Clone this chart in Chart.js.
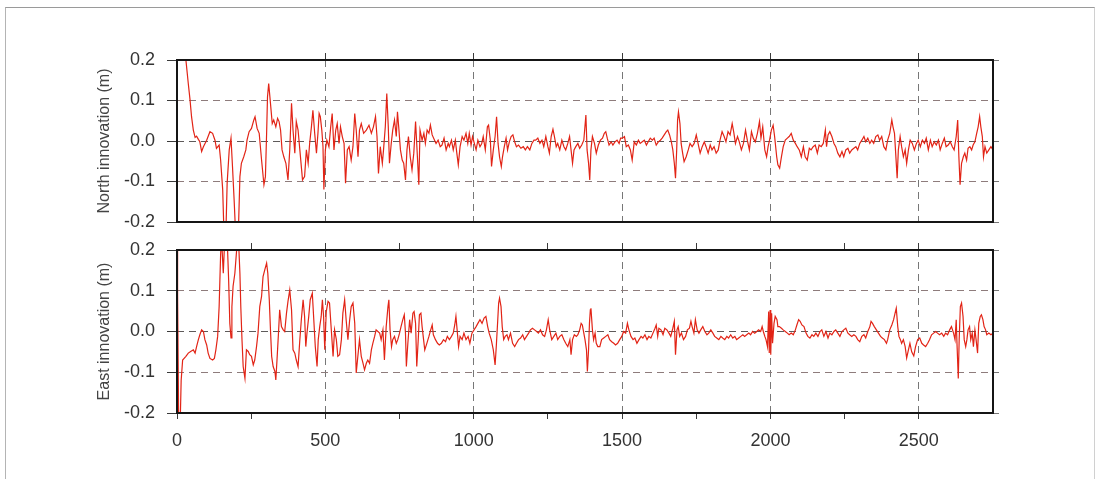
<!DOCTYPE html>
<html><head><meta charset="utf-8">
<script src="https://cdn.jsdelivr.net/npm/chart.js@4.4.1/dist/chart.umd.min.js"></script>
<style>
html,body{margin:0;padding:0;background:#fff;}
body{width:1098px;height:479px;position:relative;overflow:hidden;}
#page{position:absolute;left:5px;top:7px;width:1088px;height:480px;border-top:1px solid #9a9a9a;border-left:1px solid #b4b4b4;border-right:1px solid #d0d0d0;}
.box{position:absolute;left:0;}
#b1{top:0;}
#b2{top:220px;}
</style></head><body>
<div id="page"></div>
<div class="box" id="b1"><canvas id="c1" width="1098" height="252"></canvas></div>
<div class="box" id="b2"><canvas id="c2" width="1098" height="259"></canvas></div>
<script>
// ---- data ----
const northT = [
0,30,38,44,49,55,61,66,72,77,
83,89,100,111,120,128,133,142,147,154,
158,165,169,176,182,187,193,197,207,212,
217,225,232,236,243,251,259,263,270,277,
285,293,298,302,305,309,315,321,326,333,
339,344,349,354,360,367,374,380,386,391,
397,402,408,414,423,430,436,442,447,453,
458,464,470,475,479,483,488,492,495,500,
505,512,518,523,529,535,540,546,551,557,
563,568,574,580,587,593,599,604,610,615,
621,629,638,647,655,662,669,674,679,685,
692,696,702,707,712,716,722,727,733,739,
743,748,753,759,764,770,775,780,786,792,
798,804,809,815,819,826,832,837,843,849,
854,860,868,873,880,887,893,900,907,914,
918,925,931,938,943,948,954,961,967,974,
980,985,991,996,1002,1008,1014,1021,1027,1032,
1039,1046,1050,1056,1060,1066,1072,1077,1082,1087,
1093,1097,1103,1109,1114,1120,1126,1132,1138,1144,
1151,1159,1167,1174,1181,1189,1196,1203,1209,1216,
1223,1230,1236,1243,1250,1255,1261,1267,1272,1278,
1283,1290,1297,1304,1310,1317,1323,1328,1333,1338,
1344,1351,1357,1364,1371,1378,1382,1387,1391,1395,
1400,1407,1413,1420,1427,1434,1440,1445,1450,1456,
1463,1469,1476,1483,1490,1495,1501,1508,1514,1521,
1528,1534,1541,1548,1555,1561,1568,1575,1582,1588,
1595,1602,1608,1615,1622,1629,1635,1642,1649,1654,
1660,1666,1671,1676,1680,1684,1687,1690,1695,1699,
1704,1709,1716,1723,1729,1736,1743,1750,1756,1763,
1770,1777,1783,1790,1797,1803,1810,1817,1824,1830,
1837,1844,1850,1857,1864,1871,1876,1882,1889,1895,
1902,1909,1916,1922,1929,1936,1942,1949,1956,1963,
1968,1974,1981,1987,1992,1997,2003,2009,2014,2021,
2025,2031,2037,2043,2050,2057,2063,2070,2077,2084,
2090,2097,2104,2111,2117,2124,2131,2137,2144,2151,
2158,2164,2171,2178,2185,2189,2194,2200,2207,2214,
2220,2227,2234,2241,2247,2254,2261,2267,2274,2281,
2288,2294,2301,2308,2315,2321,2328,2335,2341,2348,
2355,2362,2368,2375,2382,2389,2395,2402,2409,2413,
2418,2422,2427,2431,2437,2442,2448,2454,2459,2465,
2471,2478,2485,2492,2498,2505,2512,2519,2525,2532,
2539,2545,2552,2559,2566,2572,2579,2586,2592,2599,
2606,2613,2619,2626,2631,2635,2639,2644,2650,2655,
2661,2666,2672,2678,2683,2689,2695,2700,2705,2709,
2714,2718,2723,2729,2736,2743,2750
];
const northV = [
0.45,0.2,0.142,0.101,0.060,0.027,0.009,0.012,0.004,-0.002,
-0.026,-0.014,0.002,0.023,0.019,0.002,-0.018,-0.010,-0.047,-0.12,
-0.22,-0.22,-0.104,-0.022,0.007,-0.063,-0.153,-0.22,-0.22,-0.088,
-0.055,-0.039,-0.022,0.002,0.023,0.031,0.052,0.060,0.031,0.019,
-0.047,-0.108,-0.088,0.019,0.109,0.142,0.093,0.043,0.052,0.035,
0.056,0.048,0.027,-0.022,-0.039,-0.055,-0.096,-0.022,0.093,0.027,
-0.030,0.048,0.027,-0.022,-0.096,-0.088,-0.022,-0.055,-0.006,0.035,
0.076,0.019,-0.030,0.019,0.068,0.060,0.027,-0.014,-0.12,-0.022,
0.002,-0.014,0.035,0.068,-0.022,0.027,0.043,-0.006,0.035,0.011,
-0.006,-0.104,-0.022,-0.014,-0.047,-0.014,0.068,0.027,-0.039,0.027,
0.043,0.019,0.027,0.039,0.019,0.035,0.060,0.011,-0.080,-0.014,
-0.055,-0.022,0.035,0.117,0.035,-0.055,-0.006,0.027,0.052,0.011,
0.072,0.027,-0.022,-0.047,-0.055,-0.096,-0.022,0.011,-0.039,-0.071,
-0.030,0.048,-0.022,-0.108,0.027,0.002,0.019,-0.006,0.027,0.019,
0.039,0.015,0.002,-0.006,0.002,-0.014,-0.010,0.007,-0.022,-0.006,
-0.014,0.002,-0.022,0.002,-0.030,-0.059,-0.014,0.011,0.002,0.019,
-0.006,0.019,-0.010,0.011,-0.006,-0.022,0.002,-0.014,-0.006,0.011,
-0.022,0.035,0.039,0.002,-0.063,-0.022,0.011,0.060,-0.006,-0.039,
-0.063,-0.039,-0.014,0.007,-0.022,-0.002,0.011,0.015,-0.002,-0.014,
-0.010,-0.018,-0.014,-0.022,-0.014,-0.022,-0.006,0.002,0.002,0.007,
-0.006,0.002,-0.014,0.011,-0.014,-0.030,0.011,0.029,0.011,-0.014,
-0.006,-0.022,0.002,-0.014,-0.022,-0.006,0.011,-0.022,-0.055,-0.022,
-0.014,-0.006,-0.018,-0.010,0.002,0.064,-0.022,-0.055,-0.096,-0.022,
0.011,-0.006,-0.030,-0.010,0.002,0.007,0.019,0.023,0.007,-0.010,
-0.002,-0.010,-0.002,0.002,-0.006,0.007,0.007,0.011,-0.014,-0.010,
-0.022,-0.047,-0.002,-0.010,0.002,-0.006,-0.002,0.002,-0.010,-0.002,
0.007,0.002,0.007,-0.010,-0.002,0.002,0.007,0.015,0.023,0.027,
0.015,-0.002,-0.022,-0.055,-0.092,-0.022,0.052,0.072,0.043,-0.006,
-0.030,-0.051,-0.039,-0.022,-0.006,-0.014,-0.006,0.015,-0.006,-0.030,
-0.014,-0.002,-0.014,-0.030,-0.010,-0.022,-0.014,-0.030,-0.022,0.002,
0.023,0.011,-0.002,0.023,0.015,0.043,0.023,-0.006,0.011,-0.002,
-0.022,-0.006,0.027,0.002,-0.022,0.023,0.007,-0.002,0.019,0.048,
0.007,0.035,-0.022,-0.039,-0.014,0.002,0.027,0.039,0.011,-0.039,
-0.059,-0.067,-0.039,-0.014,0.002,0.007,0.011,0.019,0.002,-0.006,
-0.014,-0.022,-0.039,-0.014,-0.039,-0.047,-0.018,-0.022,-0.014,-0.010,
-0.030,-0.010,-0.014,-0.006,0.027,-0.014,0.015,0.023,0.011,-0.006,
-0.014,-0.030,-0.039,-0.026,-0.039,-0.022,-0.018,-0.030,-0.022,-0.018,
-0.014,-0.022,-0.006,0.002,0.011,-0.002,0.007,-0.006,0.002,-0.006,
0.011,0.015,0.002,0.011,-0.014,-0.022,0.002,0.019,0.052,0.035,
0.019,-0.030,-0.092,-0.022,0.011,-0.014,-0.039,-0.022,-0.055,-0.022,
0.002,-0.006,-0.022,-0.006,0.002,-0.014,0.002,-0.006,0.007,-0.022,
0.002,-0.014,-0.002,-0.010,0.002,-0.022,-0.006,0.007,-0.014,-0.010,
-0.002,-0.014,-0.022,0.011,0.052,-0.039,-0.108,-0.055,-0.039,-0.030,
-0.047,-0.018,-0.014,-0.022,-0.010,-0.002,0.019,0.035,0.060,0.035,
0.011,-0.039,-0.014,-0.030,-0.022,-0.014,-0.022
];
const eastT = [
0,2,6,10,14,19,24,30,38,46,
55,61,66,72,77,83,89,94,100,105,
111,120,126,131,137,142,147,150,156,161,
169,174,178,182,185,189,195,201,207,212,
215,219,223,229,234,240,245,251,257,262,
268,273,279,285,290,296,302,306,311,315,
319,324,330,333,337,342,346,352,358,363,
369,374,380,386,391,397,402,408,414,419,
425,430,434,438,444,449,456,461,466,472,
476,481,486,490,494,498,503,509,514,520,
526,531,537,542,548,554,559,565,570,576,
582,587,593,599,604,610,615,621,627,632,
638,643,649,655,660,666,671,677,683,688,
694,699,705,711,714,718,723,727,733,739,
744,750,755,761,766,770,773,778,784,789,
795,799,804,808,813,817,822,826,831,835,
842,849,855,860,864,871,878,884,891,898,
905,911,918,925,931,936,940,945,949,954,
961,967,974,981,987,994,1001,1008,1014,1021,
1028,1035,1041,1047,1052,1059,1066,1072,1076,1081,
1084,1087,1092,1096,1101,1106,1112,1117,1124,1131,
1138,1144,1151,1158,1165,1171,1178,1185,1191,1198,
1205,1212,1218,1225,1232,1239,1245,1251,1256,1263,
1270,1277,1283,1290,1297,1304,1310,1317,1324,1328,
1333,1339,1346,1351,1357,1362,1366,1371,1375,1380,
1383,1387,1390,1393,1395,1400,1404,1409,1413,1418,
1425,1431,1438,1445,1452,1458,1465,1472,1478,1485,
1492,1499,1505,1512,1518,1523,1530,1537,1543,1550,
1557,1564,1570,1577,1584,1590,1597,1604,1611,1615,
1620,1624,1631,1638,1644,1651,1658,1664,1671,1676,
1680,1685,1689,1694,1700,1707,1714,1720,1727,1732,
1736,1742,1747,1753,1759,1765,1772,1779,1786,1792,
1799,1806,1812,1819,1826,1833,1839,1846,1853,1859,
1866,1873,1880,1886,1893,1900,1907,1913,1920,1927,
1933,1940,1947,1954,1960,1967,1972,1976,1981,1985,
1990,1994,1996,1999,2001,2004,2007,2012,2016,2022,
2025,2030,2037,2043,2050,2057,2063,2070,2077,2084,
2089,2095,2100,2106,2113,2120,2126,2133,2140,2146,
2153,2160,2167,2173,2180,2187,2194,2200,2207,2214,
2220,2227,2234,2241,2247,2254,2261,2267,2274,2281,
2288,2294,2301,2308,2315,2321,2328,2335,2339,2344,
2350,2357,2364,2371,2377,2384,2391,2395,2402,2409,
2415,2420,2424,2429,2433,2438,2442,2448,2454,2459,
2465,2470,2476,2483,2489,2496,2503,2510,2516,2523,
2530,2536,2543,2550,2557,2563,2570,2577,2584,2590,
2597,2604,2610,2617,2622,2626,2629,2633,2636,2640,
2644,2649,2653,2658,2662,2666,2671,2675,2680,2684,
2689,2693,2698,2702,2707,2711,2716,2720,2725,2729,
2736,2743,2750
];
const eastV = [
0.3,0.09,-0.25,-0.25,-0.12,-0.070,-0.066,-0.061,-0.053,-0.049,
-0.045,-0.053,-0.037,-0.020,-0.008,0.004,0.000,-0.020,-0.033,-0.053,
-0.066,-0.070,-0.066,-0.045,-0.012,0.061,0.189,0.23,0.143,0.23,
0.23,0.127,0.020,-0.016,0.061,0.111,0.143,0.20,0.23,0.143,
0.061,-0.020,-0.086,-0.115,-0.045,-0.049,-0.057,-0.061,-0.082,-0.070,
-0.037,-0.004,0.061,0.086,0.135,0.152,0.168,0.143,0.078,0.004,
-0.061,-0.086,-0.098,-0.119,-0.070,-0.004,0.053,0.012,0.004,0.000,
0.045,0.074,0.102,0.053,-0.045,-0.053,-0.070,-0.086,-0.020,0.029,
0.078,0.037,-0.037,-0.004,0.037,0.078,0.094,0.029,-0.037,-0.086,
-0.020,0.012,0.037,0.078,0.037,-0.045,0.049,0.074,0.070,0.004,
-0.061,0.004,-0.020,-0.061,-0.057,-0.020,0.045,0.078,0.029,-0.020,
0.029,0.061,0.070,0.020,-0.102,-0.057,-0.020,-0.061,-0.078,-0.094,
-0.078,-0.070,-0.078,-0.045,-0.029,-0.012,0.004,0.000,-0.004,-0.020,
0.004,-0.070,0.012,0.061,0.078,0.004,-0.037,-0.020,-0.012,-0.029,
-0.020,-0.004,0.012,0.029,0.041,-0.004,-0.086,-0.029,0.029,-0.004,
0.045,0.049,0.020,-0.086,-0.020,0.041,0.045,0.012,-0.020,-0.045,
-0.029,-0.012,0.004,0.016,-0.008,-0.020,-0.029,-0.033,-0.029,-0.020,
-0.025,-0.012,-0.020,-0.012,-0.004,0.016,0.037,-0.004,-0.037,-0.012,
-0.020,-0.004,-0.020,-0.012,-0.029,-0.004,0.004,0.012,0.020,0.029,
0.020,0.033,0.037,0.012,-0.004,-0.020,-0.045,-0.082,-0.037,0.029,
0.070,0.082,0.061,0.012,-0.020,-0.012,-0.008,-0.020,-0.004,-0.029,
-0.037,-0.029,-0.020,-0.016,-0.008,-0.020,-0.012,-0.004,0.004,0.008,
0.004,0.000,-0.004,0.004,-0.008,-0.012,0.004,0.029,0.004,-0.020,
-0.012,-0.004,-0.020,-0.012,-0.008,-0.020,-0.029,-0.037,-0.020,-0.057,
-0.020,-0.008,-0.012,-0.008,0.004,0.020,0.016,-0.004,-0.020,-0.045,
-0.098,-0.045,0.020,0.053,0.057,0.004,-0.020,-0.004,-0.029,-0.037,
-0.037,-0.020,-0.016,-0.012,-0.008,-0.020,-0.025,-0.029,-0.033,-0.029,
-0.020,-0.012,0.000,-0.004,0.020,0.004,-0.012,-0.020,-0.016,-0.029,
-0.020,-0.012,-0.016,-0.008,-0.020,-0.012,-0.016,-0.004,0.008,0.016,
-0.012,0.008,0.004,-0.008,0.008,0.004,-0.004,-0.012,0.008,0.025,
-0.057,0.004,0.012,-0.012,-0.004,-0.020,-0.012,0.004,0.008,0.025,
0.012,-0.004,0.029,0.004,-0.004,0.004,0.012,0.000,-0.008,-0.004,
0.004,-0.004,-0.012,-0.016,-0.020,-0.012,-0.016,-0.020,-0.012,-0.016,
-0.008,-0.016,-0.012,-0.020,-0.016,-0.012,-0.008,-0.012,-0.008,-0.004,
-0.008,0.000,-0.004,0.000,0.004,0.000,0.012,0.000,-0.012,-0.020,
-0.037,0.049,-0.053,0.053,-0.057,0.045,-0.029,0.020,0.037,0.029,
0.012,0.012,0.008,0.004,0.000,-0.004,-0.008,-0.004,-0.008,0.004,
0.016,0.029,0.025,0.016,0.012,-0.004,-0.012,-0.016,-0.008,-0.012,
-0.004,-0.012,0.000,0.004,-0.012,0.000,-0.016,-0.004,-0.008,0.000,
0.004,-0.004,-0.012,0.000,0.004,0.008,-0.004,-0.008,-0.012,-0.008,
-0.012,-0.020,-0.025,-0.012,-0.008,-0.016,0.000,0.012,0.025,0.020,
0.012,0.004,-0.004,-0.012,-0.016,-0.020,-0.029,-0.020,0.004,0.016,
0.029,0.045,0.057,0.012,-0.012,-0.020,-0.029,-0.020,-0.037,-0.065,
-0.045,-0.029,-0.050,-0.060,-0.037,-0.020,-0.016,-0.029,-0.033,-0.037,
-0.029,-0.020,-0.008,-0.004,0.000,-0.004,-0.008,-0.004,-0.012,-0.004,
-0.008,0.004,0.012,-0.004,-0.020,0.029,-0.037,-0.115,-0.020,0.061,
0.070,0.037,-0.020,-0.037,-0.020,0.004,0.012,-0.020,-0.004,-0.037,
0.004,-0.020,-0.053,0.020,0.037,0.041,0.029,0.012,0.004,-0.008,
-0.004,-0.008,-0.004
];
const yTickValues = [-0.2, -0.1, 0, 0.1, 0.2];
const xMajorTicks = [0, 500, 1000, 1500, 2000, 2500];
const xMinorTicks = [0, 250, 500, 750, 1000, 1250, 1500, 1750, 2000, 2250, 2500];
const xRange = [0, 2750];
const yRange = [-0.2, 0.2];
const titles = ['North innovation (m)', 'East innovation (m)'];

// ---- styling ----
const FONT = "'Liberation Sans', Arial, sans-serif";
const LINE = 'rgb(226,36,22)';
const GRID_H = '#8e7c7c', GRID_ZERO = '#5e5a5a', GRID_V = '#777777', TICK = '#3a3a3a';
const DASH = [7, 5];
const NONE = 'rgba(0,0,0,0)';

const framePlugin = {
  id: 'frame',
  afterDatasetsDraw(chart) {
    const {ctx, chartArea: a} = chart;
    ctx.save();
    ctx.strokeStyle = '#151515';
    ctx.lineWidth = 2;
    ctx.strokeRect(a.left, a.top, a.right - a.left, a.bottom - a.top);
    ctx.restore();
  }
};

function toPoints(ts, vs) { return ts.map((t, i) => ({x: t, y: vs[i]})); }

function yScale(title) {
  return {
    type: 'linear', position: 'left', min: yRange[0], max: yRange[1],
    afterBuildTicks: s => { s.ticks = yTickValues.map(v => ({value: v})); },
    ticks: { callback: v => Number(v).toFixed(1), font: {family: FONT, size: 18}, color: '#333', padding: 12 },
    grid: {
      color: c => (c.tick && Math.abs(c.tick.value) < 1e-9) ? GRID_ZERO : (c.tick && Math.abs(c.tick.value) > 0.15 ? NONE : GRID_H),
      lineWidth: 1, tickLength: 10, tickColor: TICK, tickBorderDash: []
    },
    border: { display: false, dash: DASH },
    title: { display: true, text: title, font: {family: FONT, size: 16}, color: '#444', padding: {top: 95, bottom: 0} },
    afterFit: s => { s.width = 177; }
  };
}
function yRight() {
  return {
    type: 'linear', position: 'right', min: yRange[0], max: yRange[1],
    afterBuildTicks: s => { s.ticks = yTickValues.map(v => ({value: v})); },
    ticks: { display: false },
    grid: { drawOnChartArea: false, tickLength: 6, tickColor: '#777', tickBorderDash: [] },
    border: { display: false },
    afterFit: s => { s.width = 105; }
  };
}
function spacerX(pos, h) {
  return {
    type: 'linear', position: pos, min: xRange[0], max: xRange[1],
    ticks: { display: false }, grid: { display: false }, border: { display: false },
    afterFit: s => { s.height = h; }
  };
}
function baseOptions(scales) {
  return {
    responsive: false, animation: false,
    layout: { padding: 0 },
    plugins: { legend: {display: false}, tooltip: {enabled: false} },
    elements: { point: {radius: 0}, line: {borderWidth: 1.2, tension: 0} },
    scales
  };
}

// ---- top chart (North) ----
new Chart(document.getElementById('c1'), {
  type: 'line',
  data: { datasets: [{ data: toPoints(northT, northV), borderColor: LINE, borderWidth: 1.2, pointRadius: 0, xAxisID: 'x', yAxisID: 'y' }] },
  options: baseOptions({
    x: {
      type: 'linear', position: 'top', min: xRange[0], max: xRange[1],
      afterBuildTicks: s => { s.ticks = xMajorTicks.map(v => ({value: v})); },
      ticks: { display: false },
      grid: { color: c => (c.tick && c.tick.value > 0) ? GRID_V : NONE, tickLength: 7,
              tickColor: c => (c.tick && c.tick.value > 0) ? TICK : NONE, tickBorderDash: [] },
      border: { display: false, dash: DASH },
      afterFit: s => { s.height = 60; }
    },
    xb: spacerX('bottom', 30),
    y: yScale(titles[0]),
    y2: yRight()
  }),
  plugins: [framePlugin]
});

// ---- bottom chart (East) ----
new Chart(document.getElementById('c2'), {
  type: 'line',
  data: { datasets: [{ data: toPoints(eastT, eastV), borderColor: LINE, borderWidth: 1.2, pointRadius: 0, xAxisID: 'x', yAxisID: 'y' }] },
  options: baseOptions({
    x: {
      type: 'linear', position: 'bottom', min: xRange[0], max: xRange[1],
      afterBuildTicks: s => { s.ticks = xMinorTicks.map(v => ({value: v})); },
      ticks: { autoSkip: false, maxRotation: 0, padding: 11, font: {family: FONT, size: 18}, color: '#333',
               callback: v => xMajorTicks.includes(v) ? String(v) : '' },
      grid: { color: c => (c.tick && c.tick.value > 0 && xMajorTicks.includes(c.tick.value)) ? GRID_V : NONE,
              tickLength: 6, tickColor: TICK, tickBorderDash: [] },
      border: { display: false, dash: DASH },
      afterFit: s => { s.height = 66; }
    },
    x2: {
      type: 'linear', position: 'top', min: xRange[0], max: xRange[1],
      afterBuildTicks: s => { s.ticks = xMinorTicks.map(v => ({value: v})); },
      ticks: { display: false },
      grid: { drawOnChartArea: false, tickLength: 7, tickColor: c => (c.tick && c.tick.value > 0) ? TICK : NONE, tickBorderDash: [] },
      border: { display: false },
      afterFit: s => { s.height = 30; }
    },
    y: yScale(titles[1]),
    y2: yRight()
  }),
  plugins: [framePlugin]
});
</script>
</body></html>
